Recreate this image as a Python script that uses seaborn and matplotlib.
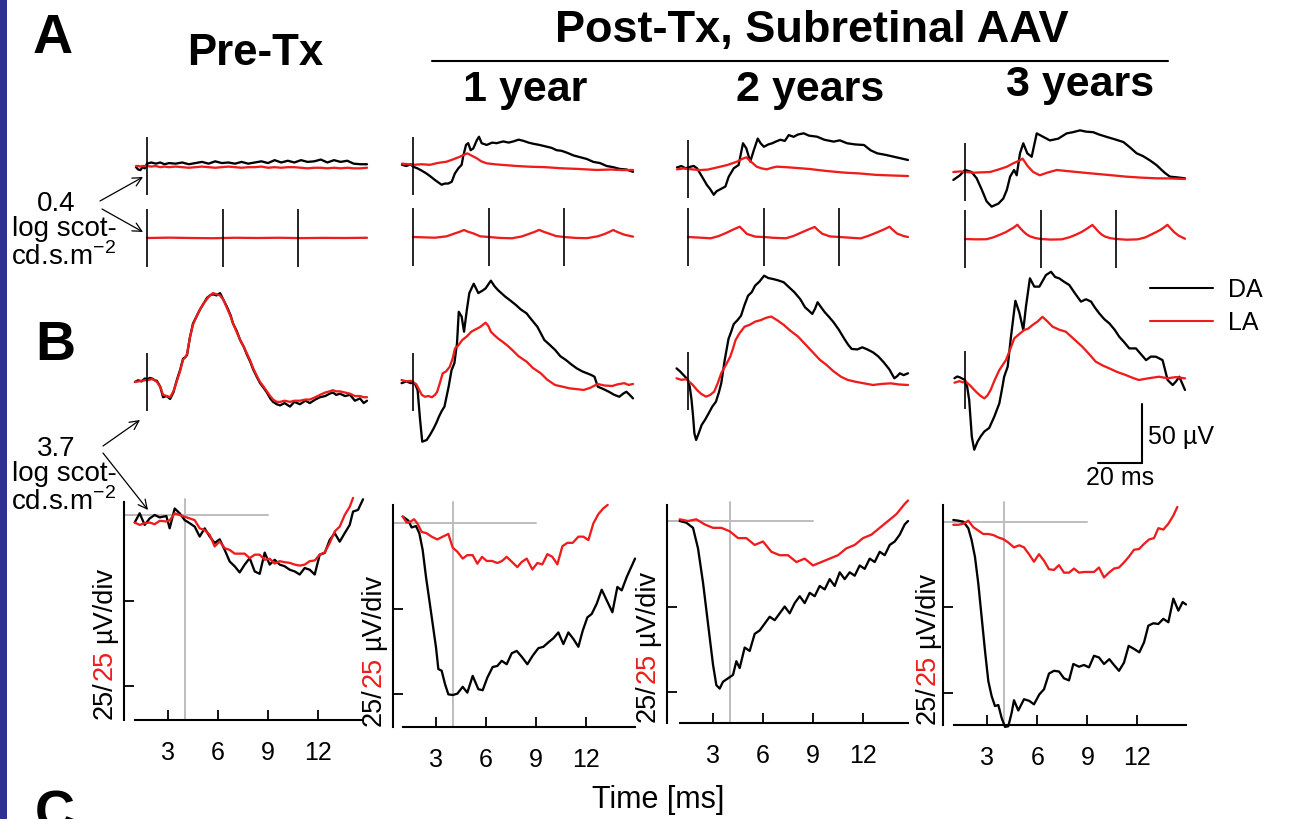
import matplotlib
matplotlib.use("Agg")
import matplotlib.pyplot as plt
from matplotlib.patches import Rectangle
from matplotlib.lines import Line2D
import seaborn as sns

# ======================= DATA =======================
column_titles = ["Pre-Tx", "1 year", "2 years", "3 years"]
header_title = "Post-Tx, Subretinal AAV"
dose_A = "0.4"
dose_B = "3.7"
flash_times = [0.0, 34.4, 68.8]      # ms, flicker flashes
marker_half = 25                     # uV, half height of stimulus markers
scale_ms = 20
scale_uv = 50
c_xticks = [3, 6, 9, 12]
c_yticks = [0, -25, -50]
c_ref_time = 4.0
c_ref_end = 9.0

# ---- Row A, single flash (time ms / amplitude uV) ----
a_pre_t = [-5, -4, -3, -2, -1, 0, 2, 4, 6, 8, 10, 13, 16, 19, 22, 25, 28, 31, 34, 37, 40, 43, 46, 49, 52,
           55, 58, 61, 64, 67, 70, 73, 76, 79, 82, 85, 88, 91, 94, 97, 100]
a_pre_da = [-1, -3, -3.5, -1, -2, 2, 3, 2, 3, 1.5, 2.5, 2, 3, 1.5, 2.5, 3.5, 2, 4, 2.5, 3, 2, 3.5, 2, 3, 4,
            2.5, 5, 3, 4.5, 3, 5, 3.5, 4, 5.5, 3, 5, 3.5, 4.5, 2, 1.5, 1.5]
a_pre_la = [0, 0, -0.5, 0, 0, 0, -0.5, 0, -1, -0.5, -1, -0.5, -1, -1.5, -1, -0.5, -1, -1.5, -1, -0.5, -1,
            -1.5, -1, -1, -0.5, -1.5, -1, -1.5, -1, -1, -1.5, -2, -1.5, -1.5, -2, -1.5, -2, -1.5, -2, -2, -1.5]

a_y1_da_t = [-5, -3, -1, 0, 2, 4, 6.2, 8, 10, 11.5, 13, 14.5, 16, 17.6, 19, 20.6, 22.1, 22.9, 24.1, 25.1,
             26.2, 27.4, 29, 30, 31.2, 33.5, 36, 38, 41, 43.5, 45.6, 48, 50.2, 52.5, 54.7, 57.5, 60.8, 63,
             65.3, 67.5, 69.8, 73, 76, 79, 82, 85, 88, 91, 94, 97, 100]
a_y1_da = [1, 0, 1.5, -0.5, -2, -4, -6.5, -9, -12, -14, -16, -15, -15, -13.5, -6.5, -2, 1, 9, 18, 19.5,
           13.5, 15, 22, 25, 19.5, 18, 20, 19.5, 21, 20, 21, 22.5, 21.5, 20, 19, 18, 16.5, 15.5, 13.5, 13,
           11.5, 9, 7.5, 6, 3.5, 2.5, 0, -1, -2.5, -3, -5]
a_y1_la_t = [-5, -2, 0, 4, 7.7, 11, 15.3, 18, 21.4, 23, 24.7, 27, 29, 31, 33.5, 37, 41, 47, 53, 60, 68, 75,
             83.5, 90, 95, 100]
a_y1_la = [2, 1.5, 1, 1.5, 1, 2.5, 3.7, 5.5, 8, 9.5, 10.8, 8.5, 6.6, 4, 2.3, 1.5, 0.9, 0, -0.6, -1, -2,
           -2.5, -3.4, -3, -3.5, -3.4]

a_y2_da_t = [-5, -3, -1, 0, 2.6, 4.1, 6.4, 8.6, 10, 11.7, 13, 14, 15.5, 17, 18.5, 20.8, 23, 25, 26.5, 28.3,
             29.9, 31.7, 33, 34.5, 36.5, 38.3, 40, 42, 44, 45.8, 48, 50, 52.6, 55, 58.7, 62, 66.2, 69,
             72.3, 76, 80, 83, 86, 90, 93.5, 97, 100]
a_y2_da = [1.4, 2.5, 0.5, 1.4, 2.6, 0.6, -6.6, -13.7, -17, -22, -19, -18, -16.5, -15, -6.6, 0.6, 3.4, 22,
           17.7, 6.3, 16, 26, 22, 19, 21, 22, 23.5, 25, 24, 29, 27.5, 29.5, 30.5, 28.5, 27.6, 25, 23.4, 24.5,
           22, 21, 20.5, 16, 13.4, 12, 10.5, 9, 7.7]
a_y2_la_t = [-5, -2, 0, 3, 5.6, 9, 12, 14.7, 18, 20, 22.3, 24.5, 26.5, 28.5, 31.2, 33.5, 35.8, 38, 40.3,
             45, 50, 55.3, 62, 70.4, 78, 85.3, 92, 100]
a_y2_la = [-0.3, 0.5, 0, -0.5, -0.9, -0.5, 0.8, 2, 3.5, 4.8, 6.3, 8.5, 10, 6.5, 2, 0.5, -0.3, 1, 2, 1.5,
           0.8, 0, -1.5, -3, -3.8, -5, -5.5, -6]

a_y3_da_t = [-5.3, -2.3, 0, 3, 5.3, 7.6, 9.8, 12.1, 15.2, 17.4, 19, 20.5, 22.3, 23.5, 25, 26.5, 28.3, 30.3,
             32.6, 35.6, 38.6, 42.4, 46.2, 49, 52.3, 55, 58.3, 61, 64.4, 68, 72, 75, 78, 81, 84, 87, 89.4,
             91, 93.2, 96, 100]
a_y3_da = [-6.8, -2.8, 1.7, 0, -5.4, -15, -25, -29.6, -27, -22.7, -15.4, -4, 1.7, -2.8, 16, 24.5, 16, 13,
           33, 30, 27, 28.5, 33, 34, 35.6, 34.5, 34, 32, 30, 28, 25.6, 21, 16, 13.5, 10, 6, 1.7, -1, -4,
           -4.5, -5.4]
a_y3_la_t = [-5.3, -2, 0, 3.8, 7.5, 11.4, 15, 19, 22, 25, 26.2, 28.5, 31, 34, 37.5, 41.7, 48, 56.8, 65,
             73.5, 80, 87, 93, 100]
a_y3_la = [0, 0.5, 0, -0.6, -0.3, 0, 2, 4.5, 7.5, 10, 11.4, 5, 0, -2.8, -0.5, 1.7, 0.5, -1.1, -2.5, -4,
           -4.8, -5.4, -5.5, -6]

# ---- Row A, 30 Hz flicker (LA) ----
f_pre_t = [0, 10, 20, 30, 40, 50, 60, 70, 80, 90, 100]
f_pre = [0, 0.3, 0, -0.2, 0.2, 0, 0.2, -0.1, 0.1, 0, 0.2]
f_y1_t = [0, 5, 10, 15.3, 18.3, 21, 23.2, 25, 27.4, 30.5, 34.5, 39.5, 45, 49.5, 52.5, 55.3, 57.3, 59.5,
          62, 65, 68.6, 74, 79, 84, 87, 89.3, 91, 93, 96, 100]
f_y1 = [0, -0.3, -0.6, 0.6, 2.6, 4.3, 6, 4.5, 3.1, 0.6, 0, -0.8, -1.1, 0.5, 2.5, 4.4, 6.1, 4.4, 2.8, 0.8,
        0, -0.8, -1, 0.6, 2.5, 4.4, 6, 4.2, 2, 0.3]
f_y2_t = [0, 5, 10.3, 14, 17.6, 20.8, 23.5, 25, 26.8, 30.6, 34.4, 39, 44.5, 48, 51.5, 54.8, 57.6, 59, 61,
          64.5, 68.8, 73.5, 78.5, 82, 85.5, 89, 91.6, 93, 95, 98, 100]
f_y2 = [0, -0.5, -1.1, 0.8, 3.7, 6.6, 8.8, 6, 2.6, 0.3, 0, -0.7, -1.1, 0.9, 3.8, 6.5, 8.6, 6, 2.8, 0.5, 0,
        -0.6, -1.2, 1, 3.6, 6.4, 8.8, 6.2, 3, 0.8, 0]
f_y3_t = [0, 5, 9.8, 13, 15.9, 18.5, 20.5, 22.3, 23.8, 25.2, 26.5, 28, 29.5, 32, 34.4, 39, 44, 47.5, 50.3,
          52.9, 54.9, 56.5, 57.9, 59.3, 60.6, 62, 63.5, 66, 68.8, 73.5, 78.5, 82, 84.5, 87, 89, 90.5, 92,
          93.5, 95, 97, 100]
f_y3 = [0, -0.3, -0.2, 1.5, 3.7, 5.8, 8, 10, 12.2, 9, 6.5, 4, 2.3, 0.8, 0, -0.5, -0.3, 1.5, 3.6, 5.9, 8.2,
        10.2, 12, 9.2, 6.4, 4, 2.2, 0.7, 0, -0.6, -0.3, 1.4, 3.7, 6, 8, 10, 12.1, 9, 6, 3, 0.2]

# ---- Row B, bright flash ----
b_pre_t = [-5.5, -4, -2.5, -1, 0, 1.2, 2.3, 3.5, 4.5, 6, 7.3, 9, 10.5, 12, 13.6, 15, 16.4, 17.3, 18.2, 19.5,
           20.9, 22.5, 24.1, 25.7, 27.3, 28.6, 30, 31.6, 33.2, 34.8, 36.4, 38, 39.1, 40.7, 42.3, 44, 45.5,
           47, 48.2, 50, 51.4, 53, 54.5, 56, 57.3, 59, 60.5, 62.5, 65, 67, 69.5, 72, 74, 76.5, 78.6, 81, 83,
           84.5, 86, 87.7, 90, 92.3, 94.5, 96.8, 98.5, 100]
b_pre_da = [0, 1.5, 0.5, 3, 2, 3.5, 3, 1.5, 1, -4, -13, -12, -14.5, -9, 2, 10, 20, 21, 23, 38, 50, 56, 62,
            67, 72, 74, 75, 74, 76, 70, 64, 57, 50, 44, 36, 30, 23, 17, 11, 4, -1, -5, -9, -14, -17, -19,
            -20, -18, -21, -17, -19, -16, -18, -15, -13, -12, -10, -9, -11, -10, -12, -11, -16, -14, -18, -16]
b_pre_la = [0, 0.5, 1, 1.5, 1.5, 2, 2.5, 1.5, 0, -4, -11, -12, -13, -8, 1, 9, 19, 21, 24, 38, 49, 56, 62,
            67, 71, 74, 76, 75, 74, 70, 63, 56, 50, 43, 36, 30, 24, 18, 12, 5, 0, -4, -8, -12, -15, -17,
            -17, -16, -17, -16, -16, -15, -15, -13, -11, -9, -8, -7, -8, -8, -9, -10, -12, -12, -13, -13]

b_y1_da_t = [-5.2, -3, -1, 0, 1, 2.1, 3.2, 4.2, 6.2, 7.8, 9.4, 10.6, 11.8, 13, 14.3, 16.2, 17.5, 18.8, 20,
             20.8, 22.1, 23.2, 24.5, 25.6, 27.6, 29.7, 31.5, 33, 35.4, 37, 38.6, 41.9, 44, 46.8, 49, 51.6,
             54, 56.5, 58, 59.7, 62, 64.6, 67, 69.5, 72, 74.4, 77, 79.2, 81, 82.5, 84, 86.5, 89, 91.5,
             93.8, 95.5, 97, 98.5, 100]
b_y1_da = [-1, 0.5, -1, -0.5, -2, -7, -32, -51, -49.6, -45, -39.6, -35, -29.6, -25, -21, -4, 10, 16, 33,
           60, 56, 43, 62, 76, 84, 76, 78, 80, 86.6, 82, 78.6, 73, 70, 65.8, 62, 58.7, 53, 47.3, 42, 35.9,
           32, 27.4, 22, 18.8, 15, 11.7, 9, 7.4, 6, 4.5, -4, -6, -8.3, -11, -12.6, -10, -8.3, -11, -14]
b_y1_la_t = [-5.2, -3, -1, 0, 1.5, 2.9, 4, 5.4, 7, 8.6, 10, 11, 12.2, 13.5, 15, 16.7, 18, 19.1, 20.5, 22.4,
             24.5, 26.5, 28.5, 30.5, 33, 34.2, 35.4, 37, 38.6, 41, 43, 45.1, 48, 51.6, 54.5, 58.1, 61,
             64.6, 68, 71.1, 74, 77.6, 80.5, 84, 87, 90.6, 93, 96, 98, 100]
b_y1_la = [1.7, 0.5, 1, 0, -2, -7, -11, -12.6, -12, -13, -11, -8.3, -1, 7.4, 9, 13, 20, 28.8, 31, 35.9,
           39, 43, 45, 47, 50.7, 48, 43, 40, 37.3, 34, 31, 27.4, 22, 17.4, 12, 7.4, 2, -2.6, -4, -5.4, -6,
           -6.8, -5, -1.7, -3, -3.4, -2, -1, -2.5, -1.7]

b_y2_da_t = [-5.2, -3.5, -2, -1, 0, 0.8, 1.6, 2.3, 2.9, 3.7, 5, 6.2, 7.8, 9.4, 11, 12.7, 14, 15.1, 16.7,
             18.4, 19.6, 20.8, 22.5, 24.1, 25.7, 27.3, 29, 30.5, 32.5, 34.6, 36.5, 38.6, 41, 43.5, 46,
             48.4, 51, 53.2, 55, 56.5, 57.8, 58.9, 60.5, 62.2, 64, 66.2, 68.5, 71.1, 72.8, 74.4, 77, 79.2,
             81.5, 84.1, 86.5, 89, 91.5, 93.8, 95, 96.3, 98, 100]
b_y2_da = [10.8, 8, 5, 3, 0.9, -5, -16, -30, -44.7, -50.4, -44, -37.6, -33, -27.6, -22, -17.7, -10, -2, 18,
           35.9, 42, 48.7, 52, 55.8, 65, 72.9, 76, 81.5, 85, 90, 88, 87.2, 86, 84.4, 80, 75.8, 70, 63, 60,
           57.3, 62, 67.3, 63, 58.7, 55, 50.1, 44, 35.9, 31, 27.4, 27, 28.8, 27, 24.5, 21, 15.9, 10, 2.3,
           4, 6.6, 5, 6.6]
b_y2_la_t = [-5.2, -3, -1, 0, 2, 4.1, 6, 8.2, 10, 11.9, 13.5, 15.1, 17, 19.2, 20.5, 21.6, 23.5, 25.7, 28,
             30.5, 33, 35.5, 37.8, 40.5, 43.5, 46.5, 50, 53, 56.5, 60, 63, 66, 69.5, 72.5, 76, 80, 84.1,
             88, 92.2, 96, 100]
b_y2_la = [2.3, 1, 1.5, 0.3, -3, -7.7, -11, -13.4, -12, -9.1, -2, 6.6, 13, 20.8, 28, 35, 41, 46.4, 48,
           50.7, 52, 54, 55.1, 52, 48, 43, 38, 32, 25, 18, 13.7, 8.5, 3.7, 1, -0.6, -2, -3.4, -2.5, -2, -3,
           -3.4]

b_y3_da_t = [-4.8, -3.5, -2.4, -1, 0, 1, 1.9, 3.1, 4.2, 5.7, 7.2, 8.8, 11, 13.3, 15.6, 16.7, 17.8, 19.4,
             20.9, 22.9, 24.7, 26.5, 27.7, 29.5, 31.5, 33.8, 36.8, 39.1, 41, 42.8, 45, 47.4, 50, 52.7, 55,
             57.3, 59, 61, 63.3, 65.6, 68, 70.1, 72.5, 74.7, 77.7, 80, 82.3, 84.5, 86.8, 89.8, 92.1, 94.4,
             96, 97.4, 100]
b_y3_da = [1.5, 3, 2.3, 1, 0, -6, -17, -48.5, -59.6, -52.7, -48, -44, -41, -31.4, -20, -9, 2.8, 11.4, 37,
           67.7, 57.6, 42.7, 62.7, 86.9, 79.8, 79.8, 89.7, 92.5, 88, 86.9, 84, 81.2, 74, 67, 69, 67, 62,
           57, 52, 48.4, 43, 37, 32, 27, 27, 22, 17, 20, 19.9, 17, 0, -4.3, -1, 2.8, -8.5]
b_y3_la_t = [-4.8, -2.5, -1, 0.4, 2.5, 5, 7, 8.8, 10.3, 11.7, 13.5, 15.6, 18.6, 20.5, 22.4, 24.5, 26.9,
             28.8, 30.7, 33, 35.2, 37.5, 39.8, 42.8, 45.8, 49.5, 53.3, 56.5, 59.4, 62.5, 65.5, 69, 73, 76,
             79, 83.5, 88.2, 92, 96, 100]
b_y3_la = [-2.3, -1, -2, -1.4, -5, -10, -13.5, -15.7, -13, -8.3, 0, 8.5, 17, 26, 35.6, 39, 42.7, 44, 47,
           50, 54, 50, 45.6, 43, 41.3, 35, 28.5, 22, 15.7, 12.5, 10, 7, 4.3, 2, 0, 1.5, 2.8, 1.5, 2.5, 1.4]

# ---- Row C, a-wave detail (ms / uV) ----
c_pre_da_t = [1.0, 1.3, 1.6, 1.9, 2.2, 2.5, 2.9, 3.1, 3.4, 3.7, 4.0, 4.3, 4.6, 4.9, 5.2, 5.5, 5.8, 6.1,
              6.4, 6.7, 7.0, 7.3, 7.6, 7.9, 8.2, 8.5, 8.8, 9.1, 9.4, 9.7, 10.0, 10.3, 10.6, 10.9, 11.2,
              11.5, 11.8, 12.1, 12.4, 12.7, 13.0, 13.3, 13.6, 13.9, 14.1, 14.4, 14.7]
c_pre_da = [-2.2, 0.5, -2.9, -1, 0, -0.7, -0.3, -3.9, 1.9, 0.5, -1.5, -2.4, -3.4, -6.3, -3.9, -6.3, -8.2,
            -7.1, -10.2, -13.6, -15, -16.8, -14.5, -12.6, -16.5, -17.2, -11, -14.5, -13.1, -14.5, -15, -16,
            -16.5, -17.4, -15.5, -16, -17.4, -11.6, -11.1, -7.3, -5.3, -7.8, -5.3, -2.9, 1, 1.5, 4.6]
c_pre_la_t = [1.0, 1.3, 1.6, 1.9, 2.2, 2.5, 2.9, 3.1, 3.4, 3.7, 4.0, 4.3, 4.6, 4.9, 5.2, 5.5, 5.8, 6.1,
              6.4, 6.7, 7.0, 7.3, 7.6, 7.9, 8.2, 8.5, 8.8, 9.1, 9.4, 9.7, 10.0, 10.3, 10.6, 10.9, 11.2,
              11.5, 11.8, 12.1, 12.4, 12.7, 13.0, 13.3, 13.6, 13.9, 14.1]
c_pre_la = [-2.2, -2.9, -2.4, -2.2, -2.7, -1.7, -1.9, -1.6, 0.5, 0, -0.5, -1, -1.5, -3.9, -4.4, -5.8, -9.2,
            -7.7, -9.7, -10.2, -11.3, -11.3, -11.3, -12.6, -11.6, -11.6, -13.1, -12.8, -14.2, -13.5, -13.8,
            -14, -14.5, -14.8, -14.5, -13.5, -13.3, -11.6, -10.9, -8.2, -4.8, -3.4, 0, 2.4, 5]

c_y1_da_t = [1.0, 1.34, 1.54, 1.8, 2.0, 2.2, 2.4, 2.6, 2.8, 3.0, 3.14, 3.34, 3.54, 3.74, 4.0, 4.28, 4.6,
             4.88, 5.2, 5.54, 5.8, 6.08, 6.4, 6.68, 6.94, 7.24, 7.54, 7.84, 8.14, 8.48, 8.8, 9.14, 9.44,
             9.74, 10.04, 10.34, 10.64, 10.94, 11.24, 11.54, 11.8, 12.08, 12.34, 12.64, 12.94, 13.24,
             13.58, 13.88, 14.14, 14.44, 14.94]
c_y1_da = [1.9, 0.7, -1.3, -0.9, -3, -7.9, -15.8, -22.6, -29.5, -36.4, -42.7, -43.2, -47.1, -50.1, -50.3,
           -49.9, -47.9, -49.6, -44.7, -48.6, -48.9, -45.2, -42.1, -41.8, -40.3, -41.3, -38.1, -37.4, -39.1,
           -41.3, -38.8, -36.6, -36.2, -34.9, -33.7, -32, -35.4, -32, -33.9, -36.2, -31.5, -27.6, -26.6,
           -23.6, -19.5, -22.6, -26.1, -18.7, -19.7, -15.8, -10.4]
c_y1_la_t = [1.0, 1.24, 1.48, 1.68, 1.88, 2.14, 2.44, 2.74, 3.08, 3.4, 3.74, 4.0, 4.28, 4.6, 4.88, 5.2,
             5.48, 5.76, 6.04, 6.36, 6.68, 6.96, 7.24, 7.56, 7.88, 8.14, 8.44, 8.78, 9.08, 9.38, 9.68, 9.98,
             10.28, 10.58, 10.88, 11.2, 11.54, 11.84, 12.14, 12.44, 12.74, 13.04, 13.3]
c_y1_la = [1.9, 0.1, 0.4, 1.1, -0.1, -2.6, -3, -4, -4.8, -4, -3.2, -7.2, -8.4, -10.4, -9.4, -9.4, -11.9,
           -9.9, -11.1, -11.1, -11.7, -11.1, -9.9, -11.4, -12.9, -11.4, -10.4, -13.6, -11.7, -12.1, -9.1,
           -9.9, -12.1, -6.8, -5.8, -5.8, -4, -4, -5, -0.1, 2.6, 4.3, 5.3]

c_y2_da_t = [1.0, 1.4, 1.8, 2.1, 2.4, 2.7, 3.0, 3.2, 3.4, 3.6, 3.9, 4.2, 4.4, 4.6, 4.9, 5.2, 5.5, 5.8, 6.1,
             6.4, 6.7, 7.0, 7.3, 7.6, 7.9, 8.2, 8.5, 8.8, 9.1, 9.4, 9.7, 10.0, 10.3, 10.6, 10.9, 11.2, 11.5,
             11.8, 12.1, 12.4, 12.7, 13.0, 13.3, 13.6, 13.9, 14.2, 14.5, 14.7]
c_y2_da = [0, -0.5, -2, -8, -18, -30, -42, -48, -49, -47, -46, -45, -41, -43, -37, -38, -33, -32, -30, -28,
           -29, -27, -25, -27, -24, -22, -24, -21, -22, -19, -20, -17, -19, -15, -17, -15, -16, -13, -14,
           -11, -12, -9, -10, -7, -6, -4, -1, 0]
c_y2_la_t = [1.0, 1.5, 2.0, 2.5, 3.0, 3.5, 4.0, 4.5, 5.0, 5.5, 6.0, 6.5, 7.0, 7.5, 8.0, 8.5, 9.0, 9.5, 10.0,
             10.5, 11.0, 11.5, 12.0, 12.5, 13.0, 13.5, 14.0, 14.5, 14.7]
c_y2_la = [0.5, 0, 0.5, -1, -2, -2, -3, -5, -5, -7, -6, -9, -10, -10, -12, -11, -13, -12, -11, -10, -8, -7,
           -5, -4, -2, 0, 2, 5, 6]

c_y3_da_t = [0.96, 1.26, 1.56, 1.86, 2.06, 2.26, 2.46, 2.66, 2.86, 3.06, 3.26, 3.46, 3.66, 3.86, 4.06,
             4.26, 4.46, 4.6, 4.86, 5.2, 5.52, 5.8, 6.12, 6.4, 6.7, 7.0, 7.3, 7.6, 7.9, 8.16, 8.5, 8.8, 9.1,
             9.4, 9.7, 10.0, 10.32, 10.6, 10.9, 11.2, 11.48, 11.8, 12.12, 12.4, 12.66, 12.96, 13.26, 13.56,
             13.86, 14.16, 14.46, 14.72, 14.92]
c_y3_da = [0.5, 0.3, 0, -1.9, -5.4, -10.3, -18.1, -27.9, -37.7, -46.6, -51, -53.9, -53.6, -57.4, -60,
           -59.8, -55.9, -52.2, -55.2, -51.9, -52.4, -53.4, -50.5, -49, -44.4, -43.6, -43.8, -45.8, -46.4,
           -41.6, -42.4, -41.9, -42.6, -39.2, -39.7, -41.6, -40.2, -41.9, -43.6, -41.2, -36.3, -37.2, -38.2,
           -35.3, -30.4, -29.7, -29.9, -28.4, -29.4, -22.5, -26, -23.5, -24.2]
c_y3_la_t = [0.96, 1.26, 1.56, 1.86, 2.16, 2.46, 2.76, 3.06, 3.36, 3.66, 3.96, 4.26, 4.6, 4.92, 5.2, 5.5,
             5.8, 6.1, 6.4, 6.7, 7.0, 7.3, 7.6, 7.9, 8.2, 8.5, 8.8, 9.1, 9.4, 9.7, 10.0, 10.3, 10.6, 10.9,
             11.2, 11.5, 11.8, 12.1, 12.4, 12.7, 13.0, 13.26, 13.56, 13.86, 14.16, 14.4]
c_y3_la = [-0.9, -0.9, -0.6, 0.3, -1.6, -2.6, -3.6, -3.6, -3.9, -4.6, -5.1, -6.1, -7.5, -6.9, -7.5, -9.5,
           -11.7, -9.5, -11.4, -13.9, -14.1, -12.7, -14.9, -14.9, -13.7, -14.9, -14.7, -14.7, -14.7, -13.4,
           -16.3, -14.9, -13.7, -13.4, -11.9, -10.2, -8.2, -8, -6.5, -5.2, -4.8, -1.9, -2.3, -0.6, 1.8, 4.3]

# ======================= LAYOUT (pixels) =======================
W, H = 1290, 819
RED = "#ee1c1c"
GRAY = "#bdbdbd"
SX, SY = 2.2, 1.17          # px per ms / px per uV (rows A, B)
SXC, SYC = 16.67, 3.42      # px per ms / px per uV (row C)
LW = 1.65

col_stim = [147, 413, 688, 965]
a1_base = [166, 166, 169, 172]
a2_base = [238, 237, 237, 239]
b_base = [382, 382, 381, 380]
c_spine = [124, 393, 667, 943]
c_t0 = [118, 386, 663, 937.3]
c_right = [363, 635, 908, 1186]
c_top = [502, 505, 505, 505]
c_axis = [720, 727, 723, 725]
c_base = [515, 523, 521, 521.7]
c_label_x = [102, 371, 645, 925]

sns.set_style("white")
plt.rcParams["font.family"] = ["Liberation Sans", "DejaVu Sans"]
plt.rcParams["mathtext.fontset"] = "custom"
plt.rcParams["mathtext.rm"] = "Liberation Sans"
plt.rcParams["text.color"] = "black"
plt.rcParams["axes.edgecolor"] = "black"
plt.rcParams["xtick.color"] = "black"
plt.rcParams["ytick.color"] = "black"

fig = plt.figure(figsize=(W / 100, H / 100), dpi=100)
fig.patch.set_facecolor("white")


def ax_px(x0, y0, x1, y1):
    return fig.add_axes([x0 / W, 1 - y1 / H, (x1 - x0) / W, (y1 - y0) / H])


def draw(ax, t, v, color, lw=LW):
    sns.lineplot(x=t, y=v, ax=ax, color=color, linewidth=lw, estimator=None,
                 sort=False, legend=False, clip_on=False)


def trace_ax(stim, base, x0, x1, y0, y1):
    ax = ax_px(x0, y0, x1, y1)
    ax.axis("off")
    return ax, ((x0 - stim) / SX, (x1 - stim) / SX), ((base - y1) / SY, (base - y0) / SY)


a_single = [(a_pre_t, a_pre_da, a_pre_t, a_pre_la), (a_y1_da_t, a_y1_da, a_y1_la_t, a_y1_la),
            (a_y2_da_t, a_y2_da, a_y2_la_t, a_y2_la), (a_y3_da_t, a_y3_da, a_y3_la_t, a_y3_la)]
a_flicker = [(f_pre_t, f_pre), (f_y1_t, f_y1), (f_y2_t, f_y2), (f_y3_t, f_y3)]
b_bright = [(b_pre_t, b_pre_da, b_pre_t, b_pre_la), (b_y1_da_t, b_y1_da, b_y1_la_t, b_y1_la),
            (b_y2_da_t, b_y2_da, b_y2_la_t, b_y2_la), (b_y3_da_t, b_y3_da, b_y3_la_t, b_y3_la)]
c_awave = [(c_pre_da_t, c_pre_da, c_pre_la_t, c_pre_la), (c_y1_da_t, c_y1_da, c_y1_la_t, c_y1_la),
           (c_y2_da_t, c_y2_da, c_y2_la_t, c_y2_la), (c_y3_da_t, c_y3_da, c_y3_la_t, c_y3_la)]

for i in range(4):
    stim = col_stim[i]
    # ---- Row A single flash ----
    ax, xl, yl = trace_ax(stim, a1_base[i], stim - 20, stim + 235, a1_base[i] - 45, a1_base[i] + 45)
    td, vd, tl, vl = a_single[i]
    draw(ax, td, vd, "black")
    draw(ax, tl, vl, RED)
    ax.vlines([flash_times[0]], -marker_half, marker_half, color="black", lw=1.2)
    ax.set_xlim(*xl); ax.set_ylim(*yl)
    # ---- Row A flicker ----
    ax, xl, yl = trace_ax(stim, a2_base[i], stim - 20, stim + 235, a2_base[i] - 35, a2_base[i] + 35)
    tf, vf = a_flicker[i]
    draw(ax, tf, vf, RED)
    ax.vlines(flash_times, -marker_half, marker_half, color="black", lw=1.2)
    ax.set_xlim(*xl); ax.set_ylim(*yl)
    # ---- Row B bright flash ----
    ax, xl, yl = trace_ax(stim, b_base[i], stim - 20, stim + 235, b_base[i] - 115, b_base[i] + 90)
    td, vd, tl, vl = b_bright[i]
    draw(ax, td, vd, "black")
    draw(ax, tl, vl, RED)
    ax.vlines([flash_times[0]], -marker_half, marker_half, color="black", lw=1.2)
    if i == 3:
        xb = (1142 - stim) / SX
        yb = (b_base[i] - 463) / SY
        ax.plot([xb, xb], [yb, yb + scale_uv], color="black", lw=1.5, clip_on=False)
        ax.plot([xb - scale_ms, xb], [yb, yb], color="black", lw=1.5, clip_on=False)
        ax.text(xb + 2.5, yb + scale_uv * 0.45, f"{scale_uv} \u00b5V", fontsize=18,
                ha="left", va="center")
        ax.text(xb - scale_ms / 2, yb - 13, f"{scale_ms} ms", fontsize=18, ha="center", va="center")
    ax.set_xlim(*xl); ax.set_ylim(*yl)

    # ---- Row C a-wave detail ----
    ax = ax_px(c_spine[i], c_top[i], c_right[i], c_axis[i])
    ax.patch.set_alpha(0)
    td, vd, tl, vl = c_awave[i]
    xlim = ((c_spine[i] - c_t0[i]) / SXC, (c_right[i] - c_t0[i]) / SXC)
    ylim = ((c_base[i] - c_axis[i]) / SYC, (c_base[i] - c_top[i]) / SYC)
    ax.plot([c_ref_time, c_ref_time], [ylim[0], ylim[1] + 1], color=GRAY, lw=1.4, zorder=1, clip_on=False)
    ax.plot([xlim[0], c_ref_end], [0, 0], color=GRAY, lw=1.4, zorder=1)
    draw(ax, td, vd, "black")
    draw(ax, tl, vl, RED)
    ax.set_xlim(*xlim); ax.set_ylim(*ylim)
    for s in ("top", "right"):
        ax.spines[s].set_visible(False)
    for s in ("left", "bottom"):
        ax.spines[s].set_linewidth(1.5)
        ax.spines[s].set_color("black")
    ax.spines["bottom"].set_bounds(1.0, xlim[1])
    ax.set_xticks(c_xticks)
    ax.set_xticklabels([str(v) for v in c_xticks])
    ax.set_yticks(c_yticks)
    ax.set_yticklabels([])
    ax.tick_params(bottom=True, left=True, direction="in", length=7, width=1.3,
                   labelsize=18, pad=15)
    ax.set_xlabel(""); ax.set_ylabel("")

# ======================= overlay (pixel coordinates) =======================
ov = fig.add_axes([0, 0, 1, 1])
ov.set_xlim(0, W); ov.set_ylim(H, 0)
ov.axis("off")
ov.add_patch(Rectangle((0, 0), 7, H, color="#2f318f", lw=0))

ov.text(33, 53, "A", fontsize=40, fontweight="bold", ha="left", va="baseline")
ov.text(35, 360, "B", fontsize=40, fontweight="bold", ha="left", va="baseline")
ov.text(35, 829, "C", fontsize=40, fontweight="bold", ha="left", va="baseline")

ov.text(255, 65, column_titles[0], fontsize=31.5, fontweight="bold", ha="center", va="baseline")
ov.text(812, 42, header_title, fontsize=32.5, fontweight="bold", ha="center", va="baseline")
ov.plot([432, 1168], [61, 61], color="black", lw=1.5)
ov.text(525, 101, column_titles[1], fontsize=31, fontweight="bold", ha="center", va="baseline")
ov.text(810, 101, column_titles[2], fontsize=31, fontweight="bold", ha="center", va="baseline")
ov.text(1080, 96, column_titles[3], fontsize=31, fontweight="bold", ha="center", va="baseline")

for dose, dy in ((dose_A, 0), (dose_B, 245)):
    ov.text(56, 211 + dy, dose, fontsize=20, ha="center", va="baseline")
    ov.text(64, 236 + dy, "log scot-", fontsize=20, ha="center", va="baseline")
    ov.text(64, 265 + dy, r"cd.s.m$^{\mathregular{-2}}$", fontsize=20, ha="center", va="baseline")

arrow_kw = dict(arrowstyle="->", lw=0.9, color="black", mutation_scale=16, shrinkA=0, shrinkB=0)
ov.annotate("", xy=(143, 177), xytext=(100, 201), arrowprops=arrow_kw)
ov.annotate("", xy=(143, 232), xytext=(102, 209), arrowprops=arrow_kw)
ov.annotate("", xy=(140, 420), xytext=(103, 446), arrowprops=arrow_kw)
ov.annotate("", xy=(148, 510), xytext=(103, 453), arrowprops=arrow_kw)

ov.text(658, 808, "Time [ms]", fontsize=22, ha="center", va="baseline")

handles = [Line2D([], [], color="black", lw=1.5), Line2D([], [], color=RED, lw=1.5)]
fig.legend(handles, ["DA", "LA"], loc="upper left", bbox_to_anchor=(1150 / W, 1 - 278 / H),
           bbox_transform=fig.transFigure, frameon=False, fontsize=18, handlelength=2.5,
           handletextpad=0.6, labelspacing=0.36, borderpad=0, borderaxespad=0)

# multi-coloured rotated y labels of row C
renderer = fig.canvas.get_renderer()
for i in range(4):
    y = c_axis[i] - 1
    xb = c_label_x[i] + 9.5
    for s, c, gap in (("25/", "black", 1.0), ("25", RED, 7.5), ("\u00b5V/div", "black", 0)):
        t = ov.text(xb, y, s, rotation=90, rotation_mode="anchor", ha="left", va="baseline",
                    color=c, fontsize=19.5)
        bb = t.get_window_extent(renderer=renderer)
        y -= bb.height + gap

fig.savefig("out.png", dpi=100, facecolor="white")
